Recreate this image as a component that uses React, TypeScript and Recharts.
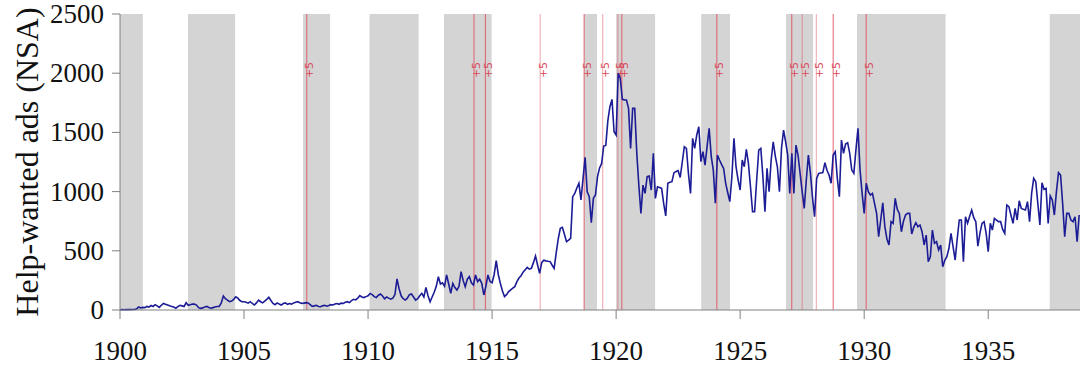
import { ComposedChart, Line, XAxis, YAxis, ReferenceArea, ReferenceLine } from "recharts";

// Monthly help-wanted advertising index, not seasonally adjusted, from Jan 1900
const START_YEAR = 1900;
const adsMonthly = [
  // 1900-1908
  2, 3, 2, 3, 4, 3, 4, 5, 8, 25, 18, 22,
  20, 30, 25, 38, 30, 45, 35, 22, 40, 55, 48, 42,
  35, 30, 25, 15, 28, 40, 35, 30, 62, 40, 45, 50,
  50, 42, 20, 14, 18, 25, 30, 22, 15, 20, 25, 30,
  30, 60, 118, 95, 84, 70, 75, 90, 112, 100, 80, 70,
  70, 65, 58, 70, 55, 42, 60, 84, 70, 60, 75, 90,
  107, 80, 55, 45, 60, 50, 42, 55, 60, 48, 55, 50,
  60, 65, 70, 62, 56, 58, 62, 60, 45, 30, 35, 40,
  30, 28, 35, 40, 32, 38, 45, 42, 50, 55, 48, 58,
  // 1909-1916
  55, 65, 70, 62, 80, 90, 85, 100, 121, 110, 105, 113,
  120, 140, 130, 113, 105, 125, 135, 118, 95, 110, 100, 92,
  100, 130, 262, 180, 120, 95, 84, 100, 130, 135, 110, 84,
  95, 120, 141, 110, 191, 120, 70, 110, 150, 200, 281, 220,
  230, 200, 296, 220, 141, 225, 190, 169, 200, 324, 250, 197,
  260, 281, 230, 211, 296, 240, 260, 225, 127, 200, 296, 240,
  230, 300, 417, 300, 225, 160, 113, 130, 155, 170, 185, 197,
  240, 270, 290, 320, 340, 360, 345, 352, 400, 456, 380, 310,
  // 1917-1924
  400, 420, 415, 412, 410, 380, 352, 480, 600, 690, 698, 640,
  577, 590, 605, 957, 985, 1030, 1070, 929, 1112, 1289, 999, 957,
  737, 943, 971, 1126, 1200, 1238, 1385, 1390, 1600, 1717, 1779, 1506,
  1478, 2000, 1956, 1779, 1775, 1773, 1703, 1365, 1703, 1703, 1323, 1050,
  816, 1055, 985, 1126, 1131, 1013, 1323, 943, 1041, 1035, 1027, 900,
  794, 1070, 1078, 1084, 1160, 1170, 1177, 1120, 1250, 1379, 1365, 1150,
  985, 1450, 1365, 1478, 1548, 1253, 1337, 1224, 1380, 1534, 1300, 1182,
  901, 1309, 1267, 1230, 1196, 1070, 990, 915, 1126, 1450, 1210, 1100,
  // 1925-1932
  1013, 1267, 1210, 1357, 1238, 1041, 830, 830, 1100, 1351, 1365, 1126,
  830, 1196, 999, 1267, 1421, 1300, 1210, 999, 1365, 1520, 1421, 1309,
  985, 1323, 985, 1393, 1309, 1154, 1000, 858, 1098, 1309, 1154, 950,
  788, 1112, 1154, 1157, 1160, 1244, 1180, 1140, 1070, 1309, 1337, 1112,
  957, 1435, 1323, 1402, 1413, 1323, 1182, 1154, 1350, 1534, 1182, 985,
  816, 1070, 1000, 971, 985, 900, 816, 619, 760, 906, 704, 600,
  549, 746, 732, 943, 850, 816, 661, 750, 802, 816, 816, 642,
  700, 737, 704, 718, 661, 549, 633, 408, 450, 675, 563, 577,
  // 1933-1938
  507, 549, 366, 420, 450, 521, 647, 535, 422, 600, 760, 760,
  408, 788, 732, 790, 844, 780, 746, 540, 650, 732, 746, 647,
  493, 732, 675, 774, 760, 746, 746, 680, 647, 887, 873, 800,
  732, 858, 760, 923, 858, 850, 844, 915, 746, 985, 1112, 1084,
  901, 718, 1075, 1019, 1027, 732, 963, 929, 802, 1000, 1160, 1140,
  901, 619, 816, 816, 760, 746, 788, 577, 802,
];

// NBER contractions (decimal years)
const recessionStart = [1900, 1902.74, 1907.38, 1910.06, 1913.06, 1918.71, 1920.0, 1923.43, 1926.85, 1929.71, 1937.48];
const recessionEnd = [1900.92, 1904.64, 1908.47, 1912.04, 1914.98, 1919.23, 1921.57, 1924.59, 1927.94, 1933.28, 1938.7];

// event markers
const eventDates = [1907.53, 1914.27, 1914.73, 1916.94, 1918.71, 1919.46, 1920.07, 1920.23, 1924.06, 1927.08, 1927.5, 1928.07, 1928.75, 1930.08];
const eventFaint = [false, false, false, true, false, true, true, false, false, false, true, true, false, false];
const eventLabel = "+5";

const xTicks = [1900, 1905, 1910, 1915, 1920, 1925, 1930, 1935];
const yTicks = [0, 500, 1000, 1500, 2000, 2500];

const data = adsMonthly.map((v, i) => ({ t: START_YEAR + i / 12, ads: v }));

const SERIF = "Liberation Serif";
const AXIS_GRAY = "#808080";
const TEXT = "#111";

const XTick = (props: any) => {
  const { x, y, payload } = props;
  return (
    <text x={x} y={y + 41} textAnchor="middle" fontSize={27} fontFamily={SERIF} fill={TEXT}>
      {payload.value}
    </text>
  );
};

const YTick = (props: any) => {
  const { x, y, payload } = props;
  return (
    <text x={x} y={y + 9} textAnchor="end" fontSize={27} fontFamily={SERIF} fill={TEXT}>
      {payload.value}
    </text>
  );
};

const EventTag = (props: any) => {
  const x = props.viewBox?.x ?? 0;
  const cx = x + 3;
  const cy = 70;
  return (
    <text
      x={cx}
      y={cy}
      transform={`rotate(-90 ${cx} ${cy})`}
      textAnchor="middle"
      dominantBaseline="central"
      fontSize={11}
      fontFamily="DejaVu Sans"
      fill="#d9485a"
    >
      {eventLabel}
    </text>
  );
};

const YTitle = (props: any) => {
  const vb = props.viewBox ?? { x: 0, y: 14, width: 120, height: 296 };
  const cy = vb.y + vb.height / 2;
  return (
    <text
      transform={`translate(38 ${cy}) rotate(-90)`}
      textAnchor="middle"
      fontSize={32}
      fontFamily={SERIF}
      fill={TEXT}
    >
      Help-wanted ads (NSA)
    </text>
  );
};

export default function App() {
  return (
    <div style={{ position: "absolute", left: 0, top: 0, background: "#fff" }}>
      <ComposedChart width={1080} height={365} data={data} margin={{ top: 14, right: 0, bottom: 0, left: 0 }}>
        <XAxis
          type="number"
          dataKey="t"
          domain={[1900, 1938.7]}
          ticks={xTicks}
          allowDataOverflow
          height={55}
          stroke={AXIS_GRAY}
          tickSize={9}
          tickMargin={0}
          tick={<XTick />}
        />
        <YAxis
          type="number"
          dataKey="ads"
          domain={[0, 2500]}
          ticks={yTicks}
          width={120}
          stroke={AXIS_GRAY}
          tickSize={8}
          tickMargin={8}
          tick={<YTick />}
          label={<YTitle />}
        />
        {recessionStart.map((s, i) => (
          <ReferenceArea key={`rec-${i}`} x1={s} x2={recessionEnd[i]} fill="#d4d4d4" fillOpacity={1} stroke="none" ifOverflow="hidden" />
        ))}
        {eventDates.map((d, i) => (
          <ReferenceLine
            key={`ev-${i}`}
            x={d}
            stroke="#e04a5c"
            strokeOpacity={eventFaint[i] ? 0.5 : 0.85}
            strokeWidth={1}
            label={<EventTag />}
          />
        ))}
        <Line
          type="linear"
          dataKey="ads"
          stroke="#1c1c96"
          strokeWidth={1.6}
          dot={false}
          isAnimationActive={false}
        />
      </ComposedChart>
    </div>
  );
}
